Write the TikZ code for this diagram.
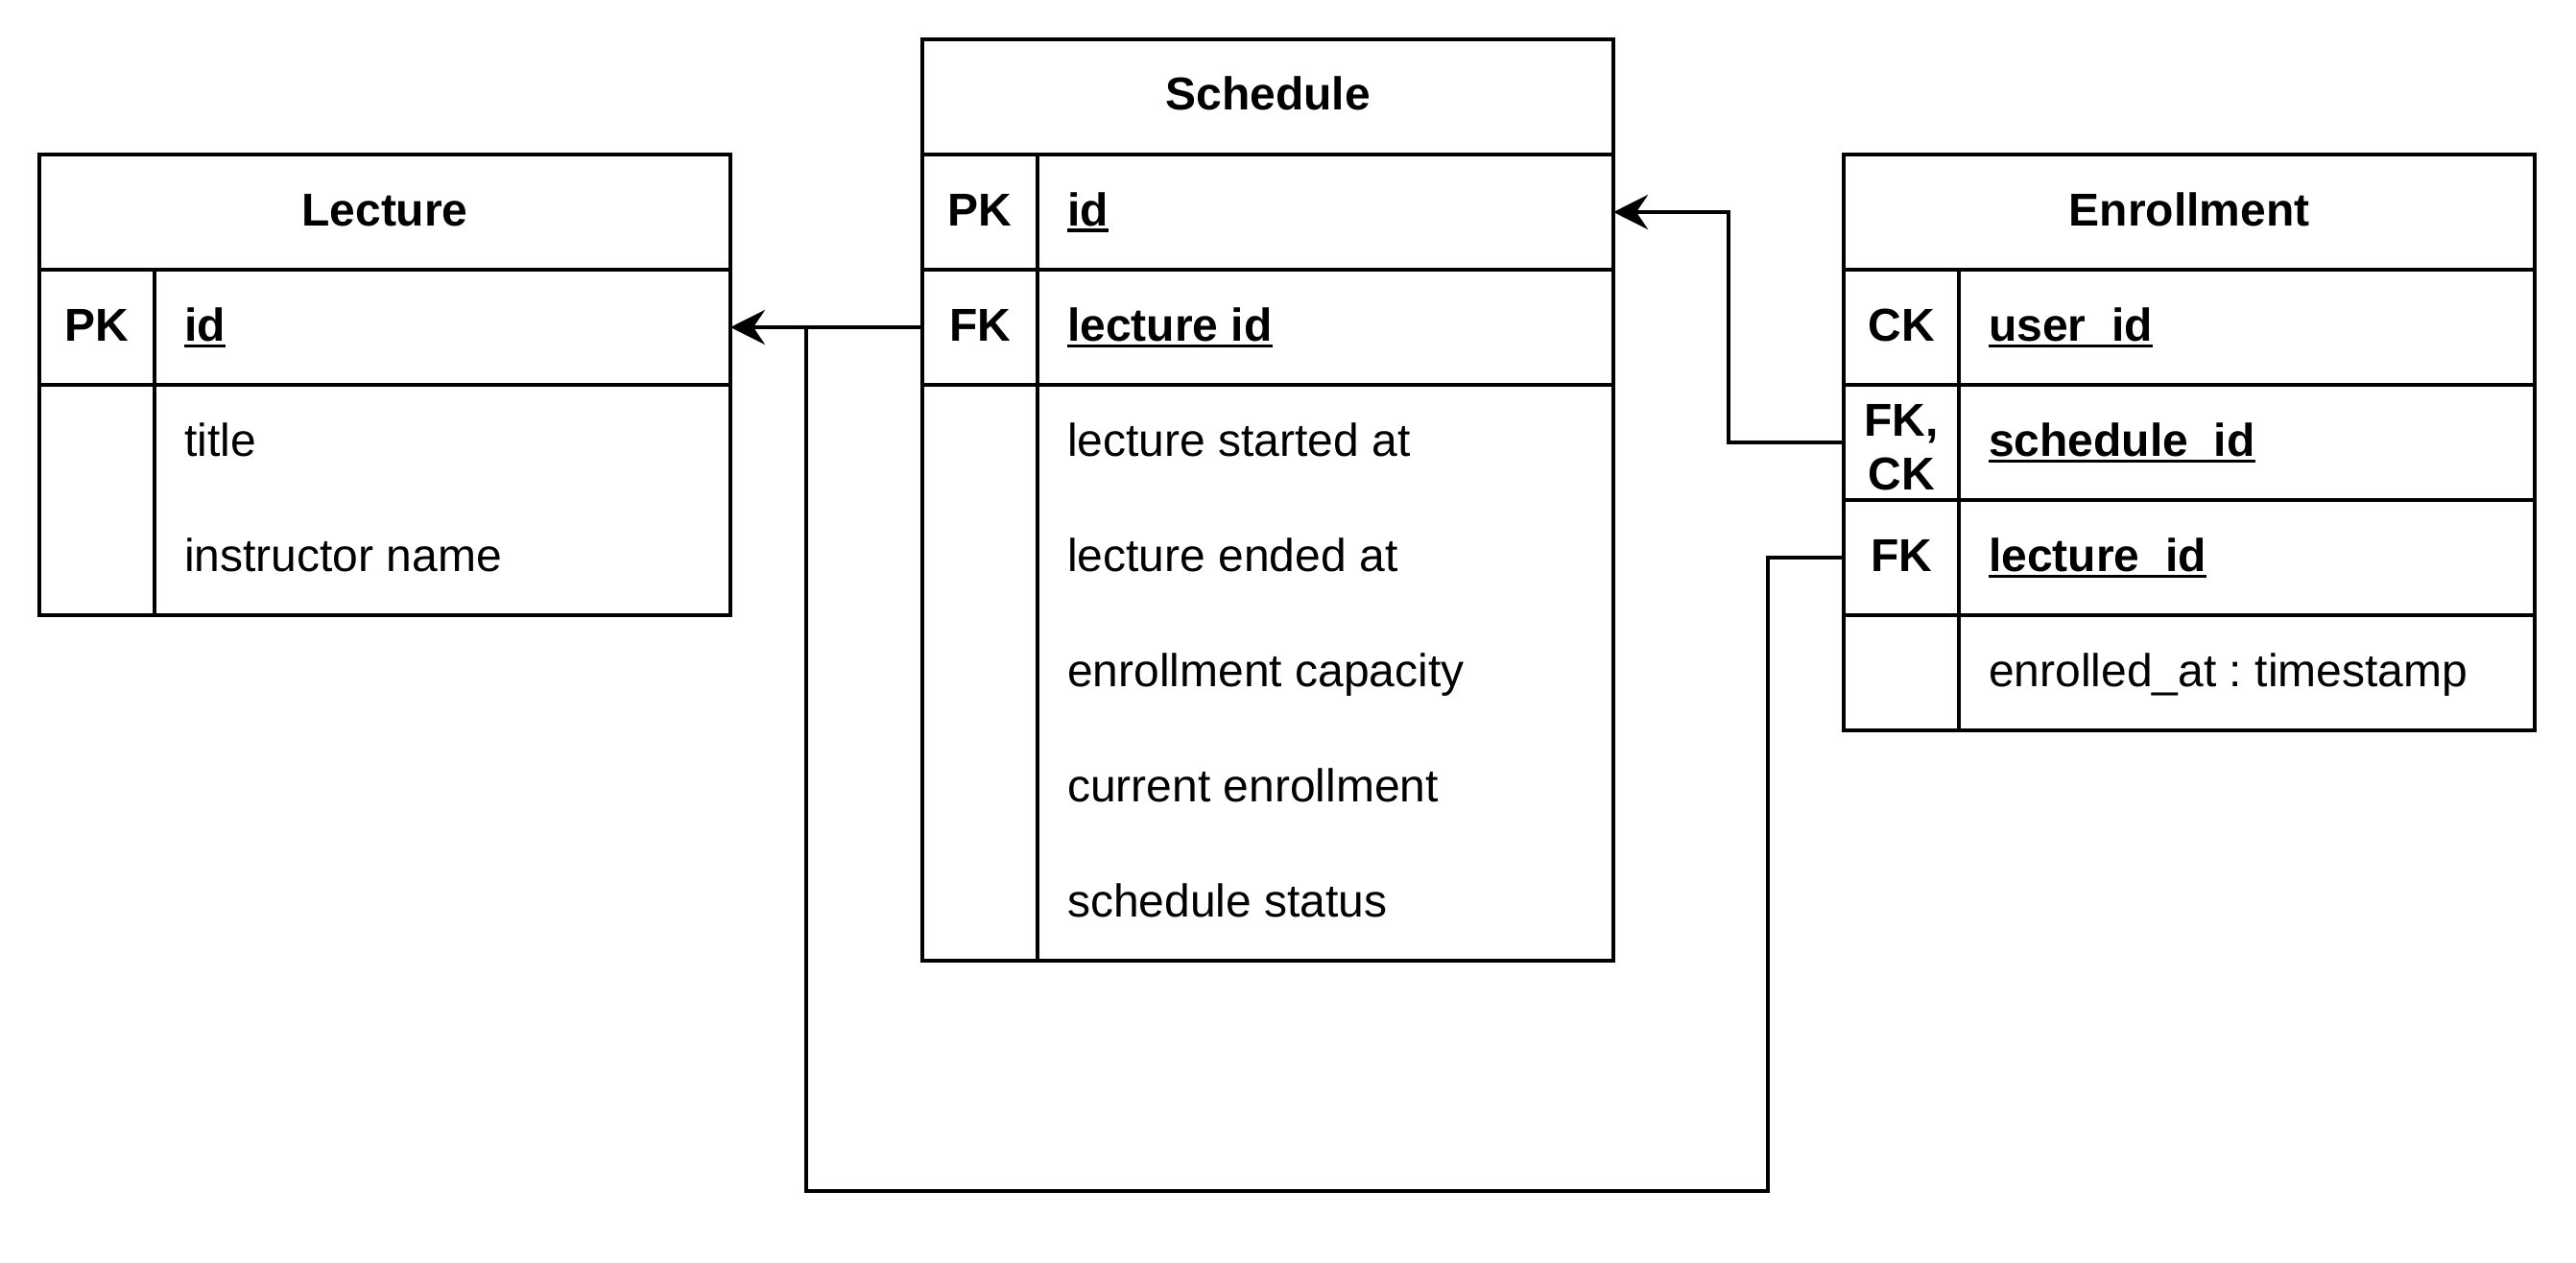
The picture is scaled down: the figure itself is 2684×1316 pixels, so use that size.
\documentclass[tikz,border=0pt]{standalone}
\usepackage{fontspec}
\setmainfont{Liberation Sans}
\usetikzlibrary{arrows.meta}
\frenchspacing
\newcommand\bigf{\fontsize{48}{56}\selectfont}
\newcommand\ulin[1]{\setbox0\hbox{#1}\rlap{\rule[-7pt]{\wd0}{3.5pt}}\box0}
\tikzset{
  tbl/.style={draw, line width=4pt, minimum width=720pt, minimum height=120pt, inner sep=0pt, outer sep=0pt, anchor=north west},
  frame/.style={line width=4pt},
  ttl/.style={font=\bigf\bfseries, anchor=base, inner sep=0pt},
  keytxt/.style={font=\bigf\bfseries, anchor=base, inner sep=0pt},
  fld/.style={anchor=base west, inner sep=0pt, font=\bigf},
  kfld/.style={anchor=base west, inner sep=0pt, font=\bigf\bfseries},
  link/.style={line width=4pt},
  arrowlink/.style={line width=4pt, -{Stealth[length=36pt,width=36pt,inset=12pt]}}
}
\begin{document}
\begin{tikzpicture}[x=1pt,y=-1pt,font=\bigf]
\useasboundingbox[fill=white] (0,0) rectangle (2684,1316);
% Lecture
\node[tbl] (lec-h) at (41,161) {};
\node[ttl] (lec-t) at (401,235) {Lecture};
\node[tbl] (lec-pk) at (41,281) {};
\node[tbl, minimum height=240pt] (lec-at) at (41,401) {};
\draw[frame] (161,281) -- (161,641);
\node[keytxt] (lec-k1) at (101,355) {PK};
\node[kfld] (lec-f1) at (192,355) {\ulin{id}};
\node[fld] (lec-f2) at (192,475) {title};
\node[fld] (lec-f3) at (192,595) {instructor name};
% Schedule
\node[tbl] (sch-h) at (961,41) {};
\node[ttl] (sch-t) at (1321,115) {Schedule};
\node[tbl] (sch-pk) at (961,161) {};
\node[tbl] (sch-fk) at (961,281) {};
\node[tbl, minimum height=600pt] (sch-at) at (961,401) {};
\draw[frame] (1081,161) -- (1081,1001);
\node[keytxt] (sch-k1) at (1021,235) {PK};
\node[keytxt] (sch-k2) at (1021,355) {FK};
\node[kfld] (sch-f1) at (1112,235) {\ulin{id}};
\node[kfld] (sch-f2) at (1112,355) {\ulin{lecture id}};
\node[fld] (sch-f3) at (1112,475) {lecture started at};
\node[fld] (sch-f4) at (1112,595) {lecture ended at};
\node[fld] (sch-f5) at (1112,715) {enrollment capacity};
\node[fld] (sch-f6) at (1112,835) {current enrollment};
\node[fld] (sch-f7) at (1112,955) {schedule status};
% Enrollment
\node[tbl] (enr-h) at (1921,161) {};
\node[ttl] (enr-t) at (2281,235) {Enrollment};
\node[tbl] (enr-ck) at (1921,281) {};
\node[tbl] (enr-fkck) at (1921,401) {};
\node[tbl] (enr-fk) at (1921,521) {};
\node[tbl] (enr-at) at (1921,641) {};
\draw[frame] (2041,281) -- (2041,761);
\node[keytxt] (enr-k1) at (1981,355) {CK};
\node[keytxt] (enr-k2) at (1981,454) {\begin{tabular}[t]{@{}c@{}}FK,\\CK\end{tabular}};
\node[keytxt] (enr-k3) at (1981,595) {FK};
\node[kfld] (enr-f1) at (2072,355) {\ulin{user\_id}};
\node[kfld] (enr-f2) at (2072,475) {\ulin{schedule\_id}};
\node[kfld] (enr-f3) at (2072,595) {\ulin{lecture\_id}};
\node[fld] (enr-f4) at (2072,715) {enrolled\_at : timestamp};
% connectors
\path (lec-pk.east) ++(79,0) coordinate (lj);
\draw[arrowlink] (sch-fk.west) -- (lec-pk.east);
\draw[arrowlink] (enr-fkck.west) -- ++(-120,0) |- (sch-pk.east);
\draw[link] (enr-fk.west) -- ++(-79,0) -- ++(0,660) -| (lj);
\end{tikzpicture}
\end{document}
